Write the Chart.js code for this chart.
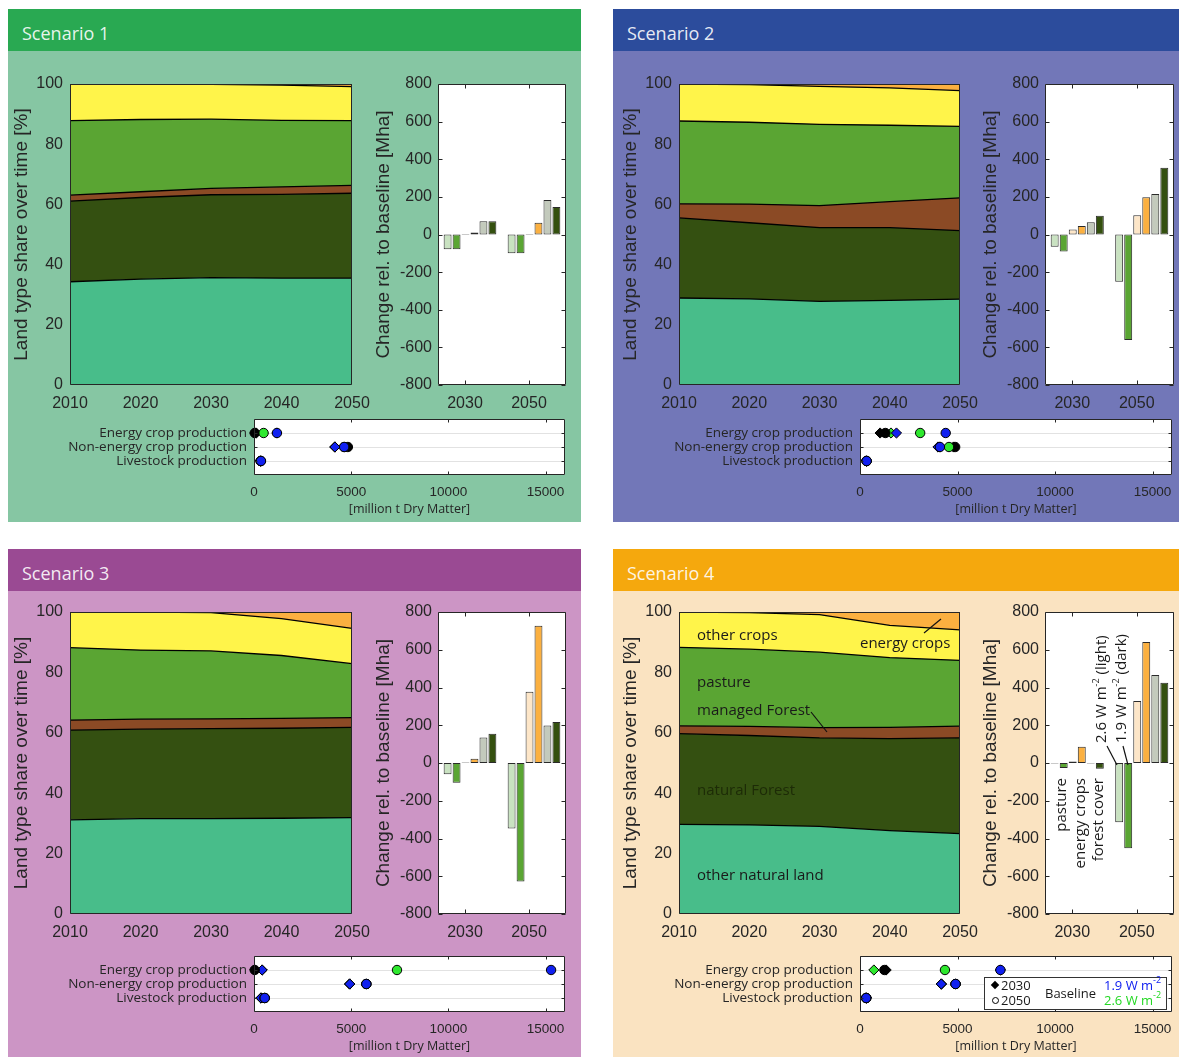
<!DOCTYPE html>
<html><head><meta charset="utf-8">
<script src="https://cdn.jsdelivr.net/npm/chart.js@4.4.0/dist/chart.umd.min.js"></script>
<style>
html,body{margin:0;padding:0;background:#fff;width:1179px;height:1057px;overflow:hidden;position:relative;}
.panel{position:absolute;}
.hdr{position:absolute;left:0;top:0;right:0;height:42px;color:rgba(255,255,255,0.9);font-family:"Open Sans",sans-serif;font-size:18px;line-height:48px;padding-left:14px;box-sizing:border-box;white-space:nowrap;}
canvas{position:absolute;}
.t{position:absolute;white-space:nowrap;font-family:"Open Sans",sans-serif;font-size:15px;line-height:18px;color:#1a1a1a;}
.w{position:absolute;width:0;height:0;}
.w .r1{position:absolute;right:0;top:-9px;line-height:18px;transform-origin:100% 50%;transform:rotate(-90deg);white-space:nowrap;font-family:"Open Sans",sans-serif;font-size:15px;color:#1a1a1a;}
.w .r2{position:absolute;left:0;top:-9px;line-height:18px;transform-origin:0 50%;transform:rotate(-90deg);white-space:nowrap;font-family:"Open Sans",sans-serif;font-size:15px;color:#1a1a1a;}
sup{font-size:9px;vertical-align:7px;line-height:0;}
.leg{position:absolute;background:#fff;border:1px solid #333;box-sizing:border-box;}
.leg .t{font-size:13px;line-height:16px;}
</style></head><body>
<script>
// ---------------- DATA ----------------
const years = [2010, 2020, 2030, 2040, 2050];
const landTypes = ['other natural land', 'natural Forest', 'managed Forest', 'pasture', 'other crops', 'energy crops'];
// share of land type [%], rows follow landTypes (stacked bottom to top)
const shareS1 = [
  [34.3, 35.2, 35.7, 35.5, 35.5],
  [26.8, 27.1, 27.5, 27.8, 28.2],
  [2.0, 1.9, 2.1, 2.5, 2.6],
  [24.7, 24.0, 23.0, 22.1, 21.5],
  [12.2, 11.8, 11.6, 11.7, 11.3],
  [0.0, 0.0, 0.1, 0.4, 0.9]
];
const shareS2 = [
  [28.9, 28.6, 27.8, 28.1, 28.5],
  [26.6, 25.3, 24.5, 24.2, 22.8],
  [4.7, 6.2, 7.3, 8.6, 10.9],
  [27.5, 27.2, 27.0, 25.4, 23.7],
  [12.3, 12.5, 12.6, 12.4, 11.9],
  [0.0, 0.2, 0.8, 1.3, 2.2]
];
const shareS3 = [
  [31.2, 31.6, 31.6, 31.7, 31.9],
  [29.7, 29.6, 29.8, 29.8, 29.9],
  [3.3, 3.3, 3.2, 3.3, 3.2],
  [24.0, 22.9, 22.5, 20.8, 17.9],
  [11.8, 12.6, 12.7, 12.2, 11.7],
  [0.0, 0.0, 0.2, 2.2, 5.4]
];
const shareS4 = [
  [29.7, 29.5, 29.0, 27.6, 26.6],
  [30.0, 29.6, 29.3, 30.5, 31.7],
  [2.6, 3.0, 3.4, 3.7, 3.9],
  [26.0, 25.6, 25.0, 23.1, 21.8],
  [11.7, 12.1, 12.4, 10.7, 10.1],
  [0.0, 0.2, 0.9, 4.4, 5.9]
];

const barYears = ['2030', '2050'];
const barSeries = ['pasture (2.6 W m-2)', 'pasture (1.9 W m-2)', 'energy crops (2.6 W m-2)', 'energy crops (1.9 W m-2)', 'forest cover (2.6 W m-2)', 'forest cover (1.9 W m-2)'];
// change relative to baseline [Mha], rows follow barSeries, columns follow barYears
const changeS1 = [[-79, -100], [-79, -100], [2, 2], [10, 63], [70, 183], [70, 146]];
const changeS2 = [[-65, -251], [-91, -561], [27, 102], [45, 198], [65, 215], [100, 355]];
const changeS3 = [[-59, -347], [-105, -628], [3, 377], [22, 727], [135, 199], [155, 217]];
const changeS4 = [[-2, -314], [-27, -452], [8, 328], [86, 641], [-2, 466], [-31, 425]];

const prodCategories = ['Energy crop production', 'Non-energy crop production', 'Livestock production'];
const prodSeries = ['1.9 W m-2 2050', '2.6 W m-2 2050', 'Baseline 2050', '1.9 W m-2 2030', '2.6 W m-2 2030', 'Baseline 2030'];
const prodTicks = [0, 5000, 10000, 15000];
// production [million t Dry Matter], rows follow prodSeries, columns follow prodCategories
const prodS1 = [[1180, 4639, 360], [494, 4639, 345], [40, 4830, 340], [1180, 4163, 340], [110, 4163, 340], [40, 4163, 340]];
const prodS2 = [[4395, 4100, 340], [3086, 4564, 340], [1300, 4880, 330], [1870, 4000, 330], [1590, 4100, 330], [1030, 4800, 330]];
const prodS3 = [[15284, 5779, 551], [7357, 5779, 551], [38, 5779, 551], [418, 4924, 361], [418, 4924, 361], [38, 4924, 361]];
const prodS4 = [[7200, 4900, 318], [4357, 4900, 318], [1250, 4900, 318], [7200, 4170, 318], [711, 4170, 318], [1340, 4170, 318]];

// ---------------- STYLES ----------------
const areaColors = ['#48bd8a', '#345011', '#8b4a25', '#5aa533', '#fff44a', '#fbb040'];
const barColors = ['#c9e2c1', '#5aa533', '#fde6c8', '#fbb040', '#c3cabc', '#34500f'];
const prodColors = ['#1020f0', '#2ee82e', '#000000', '#1020f0', '#2ee82e', '#000000'];
const prodShapes = ['circle', 'circle', 'circle', 'rectRot', 'rectRot', 'rectRot'];

const panels = [
  {name: 'Scenario 1', x: 8, y: 9, w: 573, h: 513, hdr: '#29a952', bg: '#86c6a3', area: [70, 84, 352, 385], bar: [438, 84, 566, 385], dot: [254, 419, 565, 475], shares: shareS1, change: changeS1, prod: prodS1},
  {name: 'Scenario 2', x: 613, y: 9, w: 566, h: 513, hdr: '#2c4c9c', bg: '#7277b8', area: [679, 84, 960, 385], bar: [1045, 84, 1174, 385], dot: [860, 419, 1172, 475], shares: shareS2, change: changeS2, prod: prodS2},
  {name: 'Scenario 3', x: 8, y: 549, w: 573, h: 508, hdr: '#9a4a93', bg: '#cc95c5', area: [70, 612, 352, 914], bar: [438, 612, 566, 914], dot: [254, 956, 565, 1012], shares: shareS3, change: changeS3, prod: prodS3},
  {name: 'Scenario 4', x: 613, y: 549, w: 566, h: 508, hdr: '#f5a80d', bg: '#fae3c1', area: [679, 612, 960, 914], bar: [1045, 612, 1174, 914], dot: [860, 956, 1172, 1012], shares: shareS4, change: changeS4, prod: prodS4}
];

Chart.defaults.font.family = '"Liberation Sans", Arial, sans-serif';
Chart.defaults.color = '#262626';

const boxCfg = new Map();
Chart.register({
  id: 'mbox',
  beforeDraw(chart) {
    const o = boxCfg.get(chart.canvas);
    if (!o || !o.bg) return;
    const a = chart.chartArea, ctx = chart.ctx;
    ctx.save();
    ctx.fillStyle = o.bg;
    ctx.fillRect(a.left, a.top, a.right - a.left, a.bottom - a.top);
    ctx.restore();
  },
  afterDatasetsDraw(chart) {
    const o = boxCfg.get(chart.canvas);
    if (!o) return;
    const a = chart.chartArea, ctx = chart.ctx;
    const L = Math.round(a.left) + 0.5, R = Math.round(a.right) - 0.5, T = Math.round(a.top) + 0.5, B = Math.round(a.bottom) - 0.5;
    ctx.save();
    ctx.strokeStyle = '#262626';
    ctx.lineWidth = 1;
    ctx.beginPath();
    if (o.tick) {
      const xs = chart.scales.x, ys = chart.scales.y;
      xs.ticks.forEach((t, i) => {
        const p = Math.round(xs.getPixelForTick(i) + (o.xShift || 0)) + 0.5;
        ctx.moveTo(p, B); ctx.lineTo(p, B - o.tick);
        ctx.moveTo(p, T); ctx.lineTo(p, T + o.tick);
      });
      ys.ticks.forEach((t, i) => {
        const p = Math.round(ys.getPixelForTick(i)) + 0.5;
        ctx.moveTo(L, p); ctx.lineTo(L + o.tick, p);
        ctx.moveTo(R, p); ctx.lineTo(R - o.tick, p);
      });
    }
    ctx.rect(L, T, R - L, B - T);
    ctx.stroke();
    ctx.restore();
  }
});

function mkCanvas(left, top, w, h) {
  const c = document.createElement('canvas');
  c.width = w; c.height = h;
  c.style.left = left + 'px'; c.style.top = top + 'px';
  c.style.width = w + 'px'; c.style.height = h + 'px';
  document.body.appendChild(c);
  return c;
}

const base = {responsive: false, animation: false, events: [], plugins: {legend: {display: false}, tooltip: {enabled: false}}};
const str = v => String(v);

function areaChart(p) {
  const [l, t, r, b] = p.area;
  const padL = 60, padT = 20, padR = 32, padB = 40;
  const c = mkCanvas(l - padL, t - padT, r - l + padL + padR, b - t + padT + padB);
  boxCfg.set(c, {tick: 0});
  new Chart(c, {
    type: 'line',
    data: {labels: years, datasets: p.shares.map((d, i) => ({
      label: landTypes[i], data: d, fill: i === 0 ? 'origin' : '-1',
      backgroundColor: areaColors[i], borderColor: '#000', borderWidth: 1.3, pointRadius: 0, tension: 0
    }))},
    options: Object.assign({}, base, {
      layout: {padding: {left: 0, top: padT, right: padR, bottom: 0}},
      scales: {
        x: {type: 'category', offset: false, grid: {display: false, drawTicks: false}, border: {display: false},
            ticks: {font: {size: 16}, padding: 9, maxRotation: 0, autoSkip: false}, afterFit: s => { s.height = padB; }},
        y: {min: 0, max: 100, stacked: true, grid: {display: false, drawTicks: false}, border: {display: false},
            ticks: {stepSize: 20, font: {size: 16}, padding: 7, callback: str},
            title: {display: true, text: 'Land type share over time [%]', font: {size: 19}, padding: {top: 0, bottom: 0}},
            afterFit: s => { s.width = padL; }}
      }
    })
  });
}

function barChart(p) {
  const [l, t, r, b] = p.bar;
  const padL = 66, padT = 20, padR = 5, padB = 40;
  const c = mkCanvas(l - padL, t - padT, r - l + padL + padR, b - t + padT + padB);
  boxCfg.set(c, {tick: 4, xShift: -5, bg: '#ffffff'});
  new Chart(c, {
    type: 'bar',
    data: {labels: barYears, datasets: p.change.map((d, i) => ({
      label: barSeries[i], data: d, backgroundColor: barColors[i], borderColor: '#2a2a2a', borderWidth: 1,
      borderSkipped: false, categoryPercentage: 0.84, barPercentage: 0.88
    }))},
    options: Object.assign({}, base, {
      layout: {padding: {left: 0, top: padT, right: padR, bottom: 0}},
      scales: {
        x: {grid: {display: false, drawTicks: false, offset: false}, border: {display: false},
            ticks: {font: {size: 16}, padding: 9, labelOffset: -5, maxRotation: 0}, afterFit: s => { s.height = padB; }},
        y: {min: -800, max: 800, grid: {display: false, drawTicks: false}, border: {display: false},
            ticks: {stepSize: 200, font: {size: 16}, padding: 6, callback: str},
            title: {display: true, text: 'Change rel. to baseline [Mha]', font: {size: 19}, padding: {top: 0, bottom: 0}},
            afterFit: s => { s.width = padL; }}
      }
    })
  });
}

function dotChart(p) {
  const [l, t, r, b] = p.dot;
  const padL = 200, padT = 18, padR = 14, padB = 42;
  const c = mkCanvas(l - padL, t - padT, r - l + padL + padR, b - t + padT + padB);
  const n = prodCategories.length;
  boxCfg.set(c, {tick: 3, bg: '#ffffff'});
  new Chart(c, {
    type: 'scatter',
    data: {datasets: p.prod.map((d, i) => ({
      label: prodSeries[i], data: d.map((v, j) => ({x: v, y: n - j})),
      pointStyle: prodShapes[i], pointRadius: prodShapes[i] === 'circle' ? 4.7 : 5.1,
      backgroundColor: prodColors[i], borderColor: '#000', borderWidth: 1, clip: false
    }))},
    options: Object.assign({}, base, {
      layout: {padding: {left: 0, top: padT, right: padR, bottom: 0}},
      scales: {
        x: {type: 'linear', min: 0, max: 16000, grid: {display: false, drawTicks: false}, border: {display: false},
            afterBuildTicks: s => { s.ticks = prodTicks.map(v => ({value: v})); },
            ticks: {autoSkip: false, font: {size: 13.5}, padding: 9, maxRotation: 0, callback: str},
            title: {display: true, text: '[million t Dry Matter]', font: {family: '"Open Sans", sans-serif', size: 12.5}, padding: {top: 0, bottom: 0}},
            afterFit: s => { s.height = padB; }},
        y: {type: 'linear', min: 0, max: 4, border: {display: false},
            afterBuildTicks: s => { s.ticks = prodCategories.map((c, j) => ({value: n - j})); },
            grid: {drawTicks: false, lineWidth: 1, color: '#e2e2e2'},
            ticks: {autoSkip: false, padding: 7, font: {family: '"Open Sans", sans-serif', size: 13.5},
                    callback: v => prodCategories[n - v] || ''},
            afterFit: s => { s.width = padL; }}
      }
    })
  });
}

// panels
panels.forEach(p => {
  const d = document.createElement('div');
  d.className = 'panel';
  d.style.cssText = `left:${p.x}px;top:${p.y}px;width:${p.w}px;height:${p.h}px;background:${p.bg}`;
  const h = document.createElement('div');
  h.className = 'hdr';
  h.style.background = p.hdr;
  h.textContent = p.name;
  d.appendChild(h);
  document.body.appendChild(d);
});
panels.forEach(p => { areaChart(p); barChart(p); dotChart(p); });

// annotations (scenario 4)
function addText(html, left, cy, extra) {
  const e = document.createElement('div');
  e.className = 't';
  e.style.left = left + 'px';
  e.style.top = (cy - 9) + 'px';
  if (extra) Object.assign(e.style, extra);
  e.innerHTML = html;
  document.body.appendChild(e);
  return e;
}
function addRot(html, x, y, cls) {
  const w = document.createElement('div');
  w.className = 'w';
  w.style.left = x + 'px'; w.style.top = y + 'px';
  const i = document.createElement('div');
  i.className = cls;
  i.innerHTML = html;
  w.appendChild(i);
  document.body.appendChild(w);
}
addText('other crops', 697, 634);
addText('energy crops', 860, 642);
addText('pasture', 697, 681);
addText('managed Forest', 697, 709);
addText('natural Forest', 697, 789, {color: '#1d2b07'});
addText('other natural land', 697, 874);

addRot('pasture', 1060, 778, 'r1');
addRot('energy crops', 1079, 778, 'r1');
addRot('forest cover', 1097, 778, 'r1');
addRot('2.6 W m<sup>-2</sup> (light)', 1100, 743, 'r2');
addRot('1.9 W m<sup>-2</sup> (dark)', 1120, 743, 'r2');

// legend of scenario 4 production plot
const leg = document.createElement('div');
leg.className = 'leg';
leg.style.cssText = 'left:984px;top:977px;width:183px;height:33px;';
document.body.appendChild(leg);
leg.innerHTML =
  '<div style="position:absolute;left:7px;top:4px;width:6px;height:6px;background:#000;transform:rotate(45deg)"></div>' +
  '<div class="t" style="left:16px;top:-1px">2030</div>' +
  '<div style="position:absolute;left:7px;top:19px;width:5px;height:5px;border:1px solid #000;border-radius:50%"></div>' +
  '<div class="t" style="left:16px;top:14px">2050</div>' +
  '<div class="t" style="left:60px;top:7px">Baseline</div>' +
  '<div class="t" style="left:119px;top:-1px;color:#1020f0">1.9 W m<sup>-2</sup></div>' +
  '<div class="t" style="left:119px;top:14px;color:#22d822">2.6 W m<sup>-2</sup></div>';

// leader lines
const svgNS = 'http://www.w3.org/2000/svg';
const svg = document.createElementNS(svgNS, 'svg');
svg.setAttribute('width', 1179); svg.setAttribute('height', 1057);
svg.style.cssText = 'position:absolute;left:0;top:0;pointer-events:none';
[[924, 633, 941, 619], [811, 712, 827, 732], [1107, 746, 1117, 765], [1123, 746, 1128, 765]].forEach(s => {
  const ln = document.createElementNS(svgNS, 'line');
  ln.setAttribute('x1', s[0]); ln.setAttribute('y1', s[1]); ln.setAttribute('x2', s[2]); ln.setAttribute('y2', s[3]);
  ln.setAttribute('stroke', '#111'); ln.setAttribute('stroke-width', '1.2');
  svg.appendChild(ln);
});
document.body.appendChild(svg);
</script>
</body></html>
